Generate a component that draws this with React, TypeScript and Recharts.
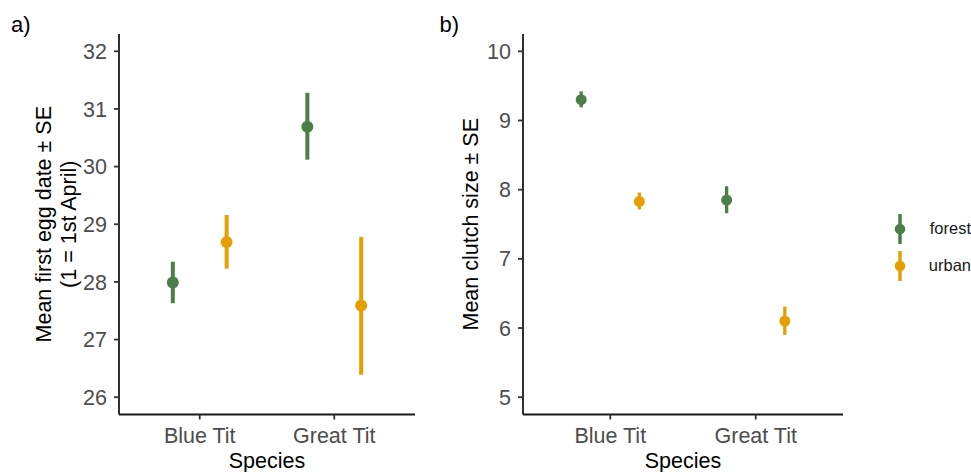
import React from 'react';
import { ScatterChart, Scatter, XAxis, YAxis, ErrorBar, Legend } from 'recharts';

const species = ['Blue Tit', 'Great Tit'];
const habitats = ['forest', 'urban'];
const habitatColors = ['#4B7F47', '#E69F00'];

// a) first egg date (mean, mean - SE, mean + SE)
const eggForestMean = [27.99, 30.69];
const eggForestLow = [27.63, 30.12];
const eggForestHigh = [28.35, 31.28];
const eggUrbanMean = [28.69, 27.59];
const eggUrbanLow = [28.23, 26.39];
const eggUrbanHigh = [29.16, 28.78];
const eggTicks = [26, 27, 28, 29, 30, 31, 32];

// b) clutch size
const clutchForestMean = [9.3, 7.85];
const clutchForestLow = [9.19, 7.66];
const clutchForestHigh = [9.42, 8.05];
const clutchUrbanMean = [7.83, 6.1];
const clutchUrbanLow = [7.715, 5.9];
const clutchUrbanHigh = [7.96, 6.31];
const clutchTicks = [5, 6, 7, 8, 9, 10];

const DODGE = 0.2;
const FONT = '"Liberation Sans", Arial, sans-serif';
const TICK = { fill: '#4D4D4D', fontSize: 21.5 };
const AXIS_LINE = { stroke: '#1a1a1a', strokeWidth: 1.8 };
const TICK_LINE = { stroke: '#333333', strokeWidth: 1.8 };

function toPoints(mean: number[], low: number[], high: number[], group: number) {
  const offset = group === 0 ? -DODGE : DODGE;
  return species.map((_, i) => ({
    x: i + 1 + offset,
    y: mean[i],
    err: [mean[i] - low[i], high[i] - mean[i]],
  }));
}

const yTitle = (lines: string[], xs: number[]) => (props: any) => {
  const vb = props.viewBox || {};
  const cy = vb.y + vb.height / 2;
  return (
    <g>
      {lines.map((t, i) => (
        <text
          key={t}
          x={xs[i]}
          y={cy}
          transform={`rotate(-90 ${xs[i]} ${cy})`}
          textAnchor="middle"
          dominantBaseline="central"
          fontSize={21.5}
          fill="#000"
        >
          {t}
        </text>
      ))}
    </g>
  );
};

function LegendBox(props: any) {
  const items = props.payload || [];
  return (
    <div style={{ fontFamily: FONT }}>
      {items.map((entry: any) => (
        <div key={entry.value} style={{ display: 'flex', alignItems: 'center', height: 36.7 }}>
          <svg width={14} height={32}>
            <line x1={7} x2={7} y1={1} y2={31} stroke={entry.color} strokeWidth={3.5} />
            <circle cx={7} cy={16} r={5.3} fill={entry.color} />
          </svg>
          <span style={{ marginLeft: 23, fontSize: 16.5, color: '#1a1a1a', whiteSpace: 'nowrap' }}>{entry.value}</span>
        </div>
      ))}
    </div>
  );
}

interface PanelProps {
  series: { name: string; color: string; data: { x: number; y: number; err: number[] }[] }[];
  domain: [number, number];
  ticks: number[];
  titleLines: string[];
  titleXs: number[];
  width: number;
  margin: { top: number; right: number; bottom: number; left: number };
  radius: number;
  barWidth: number;
  legend?: boolean;
}

function Panel(p: PanelProps) {
  return (
    <ScatterChart width={p.width} height={472} margin={p.margin}>
      <XAxis
        type="number"
        dataKey="x"
        domain={[0.4, 2.6]}
        ticks={[1, 2]}
        allowDataOverflow
        tickFormatter={(v: number) => species[v - 1]}
        height={57.5}
        tick={TICK}
        tickSize={5}
        tickMargin={8}
        axisLine={AXIS_LINE}
        tickLine={TICK_LINE}
        label={{ value: 'Species', position: 'insideBottom', offset: 4.5, fill: '#000', fontSize: 21.5 }}
      />
      <YAxis
        type="number"
        dataKey="y"
        domain={p.domain}
        ticks={p.ticks}
        allowDataOverflow
        width={60}
        tick={TICK}
        tickSize={5}
        tickMargin={7}
        axisLine={AXIS_LINE}
        tickLine={TICK_LINE}
        label={{ content: yTitle(p.titleLines, p.titleXs) }}
      />
      {p.series.map((s) => (
        <Scatter
          key={s.name}
          name={s.name}
          data={s.data}
          fill={s.color}
          isAnimationActive={false}
          shape={(sp: any) => <circle cx={sp.cx} cy={sp.cy} r={p.radius} fill={s.color} />}
        >
          <ErrorBar dataKey="err" direction="y" width={0} stroke={s.color} strokeWidth={p.barWidth} />
        </Scatter>
      ))}
      {p.legend && (
        <Legend
          layout="vertical"
          align="center"
          verticalAlign="middle"
          content={<LegendBox />}
          wrapperStyle={{ left: 463, top: 210.6, width: 78, height: 74, overflow: 'hidden' }}
        />
      )}
    </ScatterChart>
  );
}

export default function App() {
  const eggSeries = [
    { name: habitats[0], color: habitatColors[0], data: toPoints(eggForestMean, eggForestLow, eggForestHigh, 0) },
    { name: habitats[1], color: habitatColors[1], data: toPoints(eggUrbanMean, eggUrbanLow, eggUrbanHigh, 1) },
  ];
  const clutchSeries = [
    { name: habitats[0], color: habitatColors[0], data: toPoints(clutchForestMean, clutchForestLow, clutchForestHigh, 0) },
    { name: habitats[1], color: habitatColors[1], data: toPoints(clutchUrbanMean, clutchUrbanLow, clutchUrbanHigh, 1) },
  ];

  return (
    <div style={{ position: 'absolute', left: 0, top: 0, width: 971, height: 472, background: '#fff', fontFamily: FONT, overflow: 'hidden' }}>
      <div style={{ position: 'absolute', left: 0, top: 0 }}>
        <Panel
          series={eggSeries}
          domain={[25.7, 32.3]}
          ticks={eggTicks}
          titleLines={['Mean first egg date \u00b1 SE', '(1 = 1st April)']}
          titleXs={[44, 69]}
          width={430}
          margin={{ top: 34, right: 15, bottom: 0, left: 59 }}
          radius={6}
          barWidth={4}
        />
      </div>
      <div style={{ position: 'absolute', left: 430, top: 0 }}>
        <Panel
          series={clutchSeries}
          domain={[4.75, 10.25]}
          ticks={clutchTicks}
          titleLines={['Mean clutch size \u00b1 SE']}
          titleXs={[41.4]}
          width={541}
          margin={{ top: 34, right: 128, bottom: 0, left: 33 }}
          radius={5.5}
          barWidth={3.3}
          legend
        />
      </div>
      <svg width={971} height={472} style={{ position: 'absolute', left: 0, top: 0, pointerEvents: 'none' }}>
        <text x={11} y={32} fontSize={22} fill="#000">a)</text>
        <text x={439.5} y={32} fontSize={22} fill="#000">b)</text>
      </svg>
    </div>
  );
}
